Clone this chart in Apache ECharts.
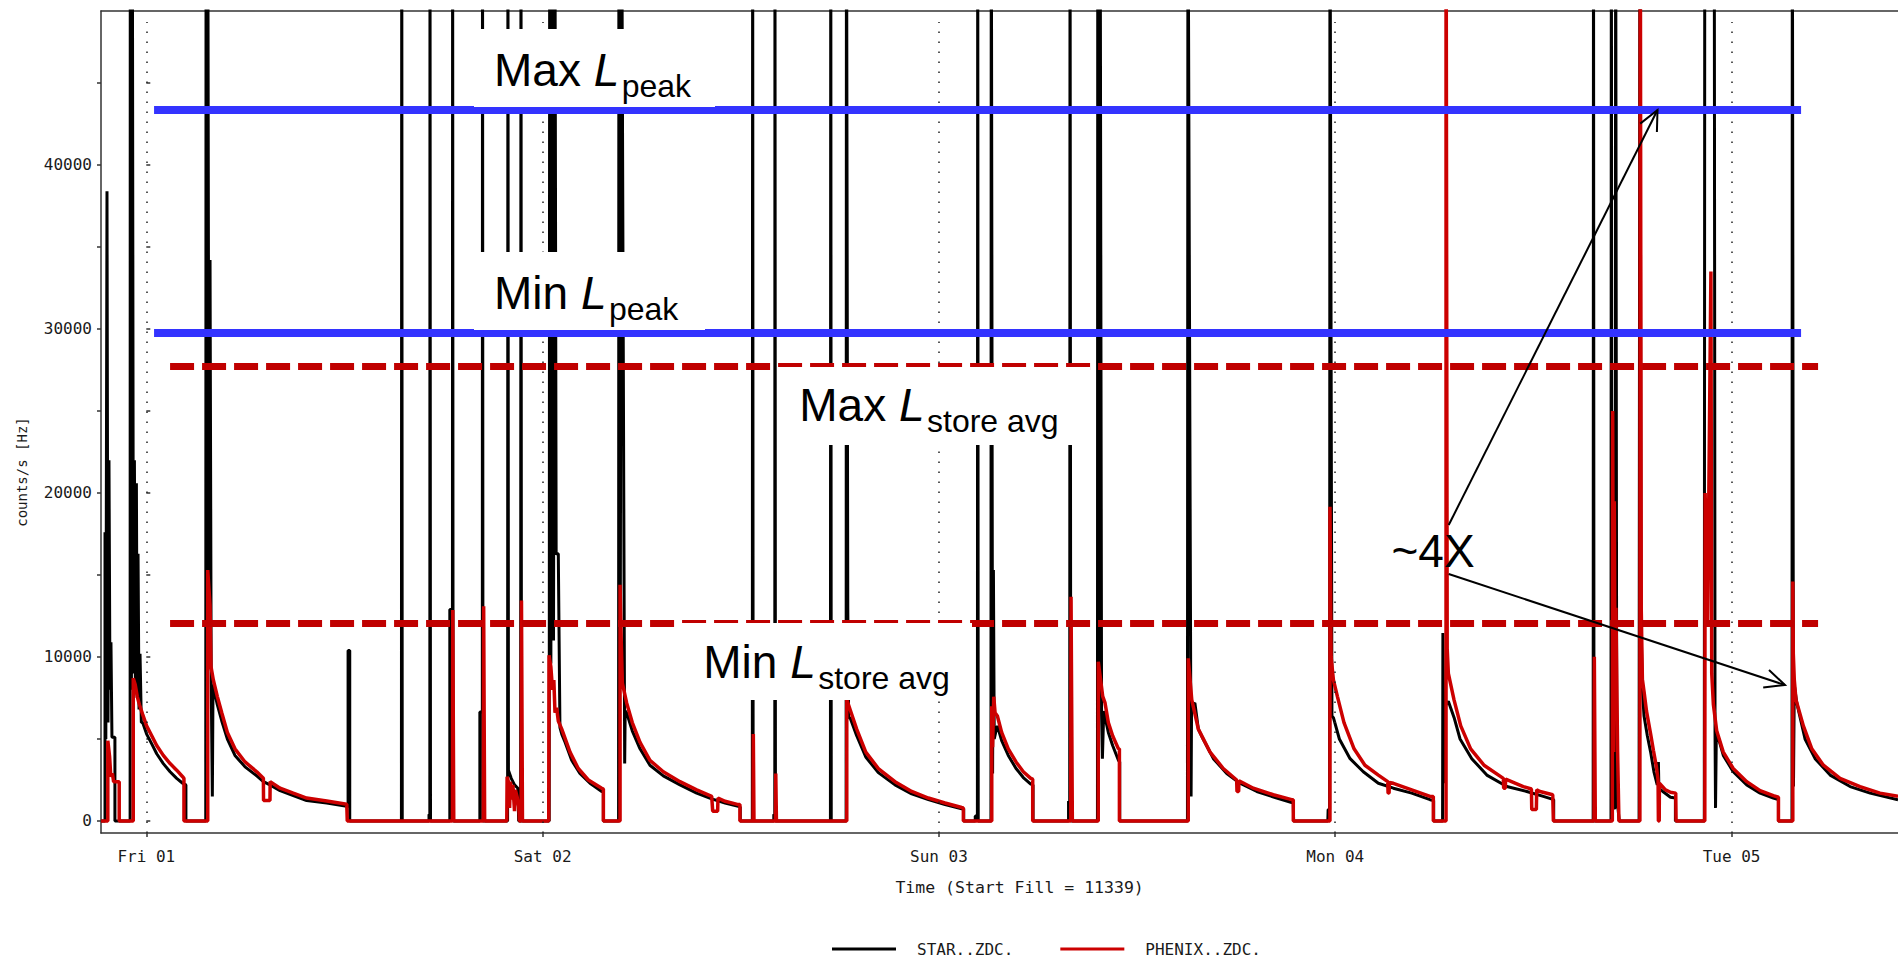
<!DOCTYPE html>
<html><head><meta charset="utf-8">
<script src="https://cdn.jsdelivr.net/npm/echarts@6/dist/echarts.min.js"></script>
<style>html,body{margin:0;padding:0;background:#fff;}#c{width:1898px;height:963px;}</style>
</head><body><div id="c"></div>
<script>
// ---- data (x = hours since Fri 01 00:00, y = counts/s) ----
const dayLabels = ['Fri 01', 'Sat 02', 'Sun 03', 'Mon 04', 'Tue 05'];
const dayHours = [0, 24, 48, 72, 96];
const yTickValues = [0, 5000, 10000, 15000, 20000, 25000, 30000, 35000, 40000, 45000];
const yLabelValues = [0, 10000, 20000, 30000, 40000];
const maxPeak = 43350, minPeak = 29750, maxStoreAvg = 27710, minStoreAvg = 12080;
const peakLineSpan = [0.47, 100.21];
const storeLineSpan = [1.44, 101.24];

const starData = [
 [-2.74,0],[-2.5,0],[-2.5,17600],[-2.45,5000],[-2.38,38400],[-2.32,6000],[-2.26,22000],[-2.2,8000],[-2.14,10900],[-2.08,5100],[-1.9,5100],[-1.9,0],
 [-0.98,0],[-0.97,60000],[-0.9,8000],[-0.85,60000],[-0.78,9000],[-0.72,22000],[-0.66,8500],[-0.6,20600],[-0.55,7500],[-0.5,16300],[-0.44,6800],[-0.38,10200],[-0.3,6000],[-0.22,6000],[0.02,5300],[0.33,4700],[0.63,4100],[1.03,3500],[1.44,3000],[1.84,2600],[2.2,2300],[2.4,2200],[2.4,0],
 [3.6,0],[3.62,60000],[3.68,9000],[3.72,60000],[3.8,12000],[3.86,34200],[3.93,8500],[4.0,1500],[4.04,8300],[4.3,7100],[4.57,6100],[4.91,5000],[5.37,4000],[5.98,3300],[6.69,2750],[7.09,2400],[7.49,2200],[8.1,1850],[8.9,1550],[9.71,1250],[10.93,1100],[12.14,900],[12.22,900],[12.22,10400],[12.32,10400],[12.32,0],
 [15.45,0],[15.47,60000],[15.5,0],
 [17.12,0],[17.12,400],[17.17,400],[17.18,60000],[17.21,0],
 [18.38,0],[18.38,12900],[18.54,12900],[18.55,60000],[18.58,0],
 [20.2,0],[20.2,6650],[20.35,6650],[20.36,60000],[20.39,0],
 [21.88,0],[21.9,60000],[21.93,3100],[22.1,2600],[22.3,2200],[22.5,2000],[22.55,0],
 [22.67,0],[22.69,60000],[22.72,0],
 [24.4,0],[24.43,60000],[24.5,9600],[24.58,60000],[24.66,11000],[24.74,60000],[24.82,16300],[24.95,16300],[25.05,5700],[25.16,5300],[25.36,4800],[25.76,3700],[26.26,2900],[26.87,2300],[27.58,1800],[27.68,1750],[27.68,0],
 [28.6,0],[28.62,60000],[28.7,9000],[28.78,60000],[28.97,3500],[29.0,6700],[29.09,6600],[29.43,5500],[29.9,4400],[30.5,3400],[31.31,2750],[32.32,2200],[33.33,1700],[34.24,1350],[35.05,1100],[35.85,900],[35.97,850],[35.97,0],
 [36.7,0],[36.72,60000],[36.75,0],
 [38.0,0],[38.0,400],[38.06,400],[38.07,60000],[38.1,0],
 [41.43,0],[41.45,60000],[41.48,0],
 [42.38,0],[42.4,60000],[42.48,13000],[42.53,6300],[42.62,6300],[43.02,5200],[43.57,3900],[44.33,2950],[45.34,2200],[46.35,1650],[47.36,1300],[48.37,1000],[49.38,750],[49.5,750],[49.5,0],
 [50.2,0],[50.2,300],[50.33,300],[50.35,60000],[50.38,0],
 [51.15,0],[51.17,60000],[51.25,2900],[51.3,15300],[51.35,5000],[51.48,5600],[51.54,5800],[51.8,4900],[52.2,4000],[52.67,3200],[53.11,2650],[53.56,2250],[53.7,2200],[53.7,0],
 [55.85,0],[55.85,1200],[55.92,1200],[55.94,60000],[55.98,6000],[56.0,0],
 [57.6,0],[57.62,60000],[57.7,9000],[57.76,60000],[57.85,6500],[57.9,3800],[57.98,6700],[58.26,5400],[58.52,4600],[58.87,3700],[58.95,3600],[58.95,0],
 [63.05,0],[63.08,60000],[63.27,1500],[63.3,7000],[63.5,7200],[63.71,5600],[64.0,5000],[64.62,3800],[65.43,2900],[66.23,2300],[67.25,1800],[68.46,1400],[69.46,1100],[69.48,1100],[69.48,0],
 [71.55,0],[71.57,700],[71.66,700],[71.68,60000],[71.8,6400],[71.89,6300],[72.25,5000],[72.9,3800],[73.7,3000],[74.61,2300],[75.52,2000],[76.63,1700],[77.74,1300],[77.96,1250],[77.96,0],
 [78.5,0],[78.52,11460],[78.6,2300],[78.65,7000],[78.85,7300],[79.2,6300],[79.56,5000],[80.27,3800],[81.18,2800],[82.39,2100],[83.6,1800],[84.6,1500],[85.23,1300],[85.23,0],
 [87.62,0],[87.64,60000],[87.67,0],
 [88.7,0],[88.72,60000],[88.76,800],[88.96,800],[88.98,60000],[89.05,1500],[89.2,0],
 [90.4,0],[90.45,60000],[90.52,12000],[90.6,8000],[90.7,6400],[90.9,5200],[91.1,4200],[91.3,3000],[91.5,2200],[91.57,3600],[91.6,2000],[91.9,1750],[92.3,1450],[92.6,1400],[92.6,0],
 [94.35,0],[94.38,60000],[94.95,60000],[95.0,5400],[95.03,800],[95.08,5500],[95.5,4000],[96.1,3000],[96.92,2200],[97.73,1700],[98.53,1400],[98.84,1300],[98.84,0],
 [99.66,0],[99.68,60000],[99.75,2100],[99.8,8300],[99.95,7200],[100.45,5000],[101.06,3800],[101.97,2800],[103.18,2100],[104.39,1700],[106.08,1300]
];

const phenixData = [
 [-2.74,0],[-2.33,0],[-2.33,4900],[-2.22,3900],[-2.15,2700],[-2.05,2900],[-1.98,2400],[-1.64,2400],[-1.64,0],
 [-0.79,0],[-0.79,8700],[-0.67,8300],[-0.55,7600],[-0.42,7100],[-0.22,6500],[0.02,5800],[0.33,5200],[0.63,4600],[1.03,4000],[1.44,3500],[1.84,3100],[2.2,2700],[2.28,2600],[2.28,0],
 [3.72,0],[3.72,15300],[3.86,13150],[3.92,9400],[4.06,8600],[4.3,7600],[4.57,6600],[4.91,5400],[5.37,4400],[5.98,3600],[6.69,3000],[7.09,2600],[7.1,1250],[7.49,1250],[7.5,2400],[8.1,2000],[8.9,1700],[9.71,1400],[10.93,1220],[12.14,1020],[12.17,1000],[12.17,0],
 [18.54,0],[18.56,12870],[18.62,0],
 [20.41,0],[20.43,13100],[20.49,0],
 [21.83,0],[21.85,2700],[21.95,2300],[22.0,800],[22.05,2400],[22.15,1300],[22.2,2200],[22.3,600],[22.35,1900],[22.45,1500],[22.55,900],[22.6,0],
 [22.7,0],[22.72,13450],[22.78,0],
 [24.37,0],[24.39,10100],[24.5,9400],[24.6,8000],[24.68,8600],[24.75,6600],[24.85,6900],[24.95,6100],[25.16,5600],[25.66,4200],[26.16,3200],[26.77,2500],[27.58,2000],[27.68,1950],[27.68,0],
 [28.69,0],[28.69,14400],[28.76,11000],[28.83,8400],[29.09,7200],[29.43,6000],[29.9,4800],[30.5,3700],[31.31,3000],[32.32,2400],[33.33,1900],[34.24,1500],[34.3,600],[34.6,600],[34.62,1400],[35.05,1200],[35.85,1000],[35.95,1000],[35.95,0],
 [36.74,0],[36.76,5300],[36.8,0],
 [38.1,0],[38.12,2900],[38.16,0],
 [42.42,0],[42.42,7400],[42.62,6800],[43.02,5600],[43.57,4200],[44.33,3200],[45.34,2400],[46.35,1800],[47.36,1400],[48.37,1100],[49.38,820],[49.48,800],[49.48,0],
 [51.2,0],[51.2,7000],[51.25,4500],[51.32,7580],[51.4,6600],[51.54,6400],[51.8,5400],[52.2,4400],[52.67,3600],[53.11,3000],[53.56,2600],[53.68,2550],[53.68,0],
 [55.98,0],[56.0,13680],[56.08,0],
 [57.65,0],[57.65,9710],[57.92,7600],[58.06,7200],[58.26,6000],[58.52,5200],[58.87,4400],[58.93,4400],[58.93,0],
 [63.1,0],[63.1,9920],[63.31,7400],[63.71,5600],[64.42,4200],[65.22,3200],[66.03,2500],[66.05,1800],[66.15,1800],[66.17,2450],[67.04,2000],[68.25,1600],[69.36,1300],[69.46,1300],[69.46,0],
 [71.68,0],[71.68,19160],[71.75,10000],[71.89,8600],[72.13,7600],[72.53,6000],[73.14,4400],[73.8,3400],[74.61,2800],[75.18,2400],[75.2,1700],[75.26,1700],[75.28,2350],[75.52,2300],[76.63,1900],[77.74,1500],[77.94,1500],[77.94,0],
 [78.71,0],[78.71,60000],[78.78,10500],[78.85,9000],[79.19,7400],[79.6,5800],[80.2,4400],[81.01,3400],[82.18,2600],[82.2,2000],[82.3,2000],[82.32,2550],[83.39,2100],[83.88,1950],[83.9,700],[84.18,700],[84.2,1900],[84.4,1800],[85.17,1600],[85.21,1600],[85.21,0],
 [87.67,0],[87.69,10020],[87.75,0],
 [88.78,0],[88.8,25000],[88.86,4200],[88.9,19500],[88.95,6600],[89.0,13000],[89.1,4200],[89.18,0],
 [90.45,0],[90.47,60000],[90.53,13000],[90.6,8650],[90.7,7900],[90.85,6700],[91.1,5300],[91.27,4300],[91.45,3300],[91.55,2500],[91.57,0],[91.62,0],[91.63,2300],[92.0,1900],[92.3,1750],[92.62,1700],[92.64,0],
 [94.38,0],[94.4,20000],[94.55,12000],[94.75,33500],[94.8,9000],[94.9,7100],[95.1,5500],[95.5,4200],[96.1,3200],[96.92,2400],[97.73,1850],[98.53,1550],[98.84,1450],[98.84,0],
 [99.71,0],[99.71,14600],[99.74,10200],[99.8,8600],[99.9,7400],[100.35,5800],[100.86,4400],[101.56,3400],[102.57,2600],[103.78,2100],[104.99,1700],[106.08,1500]
];

// ---- layout / style ----
const xMin = -2.743, xMax = 106.08, yMin = -732, yMax = 49390;
const mono = '"DejaVu Sans Mono", monospace';
const sans = '"Liberation Sans", Arial, sans-serif';
const axisColor = '#333';
const txt = '#1a1a1a';
const Z = 100;

function label(x, y, main, sub, mainW) {
  return [
    {type:'text', z:Z+1, style:{x:x, y:y, text:main, font:'46px ' + sans, fill:'#000', textAlign:'left', textVerticalAlign:'middle'}},
    {type:'text', z:Z+1, style:{x:x + mainW, y:y, text:'L', font:'italic 46px ' + sans, fill:'#000', textAlign:'left', textVerticalAlign:'middle'}},
    {type:'text', z:Z+1, style:{x:x + mainW + 28, y:y + 15.8, text:sub, font:'32px ' + sans, fill:'#000', textAlign:'left', textVerticalAlign:'middle'}}
  ];
}
function box(x, y, w, h) { return {type:'rect', z:Z, shape:{x:x, y:y, width:w, height:h}, style:{fill:'#ffffff', stroke:null}}; }

const graphics = [].concat(
  [box(474, 29, 241, 78), box(474, 252, 231, 78), box(777, 367, 313, 78), box(675, 623, 297, 77)],
  label(494, 70.1, 'Max ', 'peak', 99.7),
  label(494, 293.1, 'Min ', 'peak', 86.9),
  label(799.3, 405.1, 'Max ', 'store avg', 99.7),
  label(703.3, 662.4, 'Min ', 'store avg', 86.9),
  [
    {type:'text', z:Z+1, style:{x:1391.5, y:550.8, text:'~4X', font:'46px ' + sans, fill:'#000', textAlign:'left', textVerticalAlign:'middle'}},
    {type:'line', z:Z+2, shape:{x1:1448.7, y1:525, x2:1657.5, y2:110}, style:{stroke:'#000', lineWidth:2}},
    {type:'polyline', z:Z+2, shape:{points:[[1640.2,123.6],[1657.5,110],[1656.9,132]]}, style:{stroke:'#000', lineWidth:2, fill:null}},
    {type:'line', z:Z+2, shape:{x1:1448.7, y1:574, x2:1785, y2:685}, style:{stroke:'#000', lineWidth:2}},
    {type:'polyline', z:Z+2, shape:{points:[[1769,669.9],[1785,685],[1763.2,687.6]]}, style:{stroke:'#000', lineWidth:2, fill:null}},
    {type:'text', z:Z, x:22, y:472, rotation:Math.PI/2, style:{x:0, y:0, text:'counts/s [Hz]', font:'14px ' + mono, fill:txt, textAlign:'center', textVerticalAlign:'middle'}},
    {type:'text', z:Z, style:{x:1019.6, y:887, text:'Time (Start Fill = 11339)', font:'16.5px ' + mono, fill:txt, textAlign:'center', textVerticalAlign:'middle'}}
  ]
);

const chart = echarts.init(document.getElementById('c'), null, {renderer:'svg'});
chart.setOption({
  animation:false,
  backgroundColor:'#fff',
  grid:{left:101, right:0, top:11, bottom:130, containLabel:false, outerBoundsMode:'none'},
  legend:{
    data:['STAR..ZDC.', 'PHENIX..ZDC.'], left:827, top:936, icon:'rect', itemWidth:64, itemHeight:3, itemGap:47,
    textStyle:{fontFamily:mono, fontSize:16, color:txt, padding:[0,0,0,16]}, selectedMode:false
  },
  xAxis:[
    {type:'value', min:xMin, max:xMax, splitLine:{show:false},
     axisLine:{show:true, onZero:false, lineStyle:{color:axisColor, width:1.5}},
     axisTick:{show:true, length:4, customValues:dayHours, lineStyle:{color:axisColor, width:1.5}},
     axisLabel:{customValues:dayHours, margin:15, fontFamily:mono, fontSize:16, color:txt,
       formatter:function(v){ const i = dayHours.indexOf(v); return i >= 0 ? dayLabels[i] : ''; }}},
    {type:'value', position:'top', min:xMin, max:xMax, splitLine:{show:false},
     axisLine:{show:true, onZero:false, lineStyle:{color:axisColor, width:1.5}}, axisTick:{show:false}, axisLabel:{show:false}}
  ],
  yAxis:[
    {type:'value', min:yMin, max:yMax, splitLine:{show:false},
     axisLine:{show:true, onZero:false, lineStyle:{color:axisColor, width:1.5}},
     axisTick:{show:true, length:4, customValues:yTickValues, lineStyle:{color:axisColor, width:1.5}},
     axisLabel:{customValues:yLabelValues, margin:9, fontFamily:mono, fontSize:16, color:txt,
       formatter:function(v){ return String(v); }}},
    {type:'value', min:yMin, max:yMax, position:'left', splitLine:{show:false}, axisLine:{show:false},
     axisTick:{show:true, inside:true, length:4, customValues:yTickValues, lineStyle:{color:axisColor, width:1.5}},
     axisLabel:{show:false}}
  ],
  series:[
    {name:'STAR..ZDC.', type:'line', data:starData, showSymbol:false, symbol:'none', clip:true, z:2,
     lineStyle:{color:'#000', width:3}, itemStyle:{color:'#000'},
     markLine:{silent:true, symbol:['none','none'], label:{show:false},
       lineStyle:{type:[1.5, 8.5], color:'#222', width:1.5},
       data: dayHours.map(h => [{coord:[h, yMin]}, {coord:[h, 48720]}])}},
    {name:'PHENIX..ZDC.', type:'line', data:phenixData, showSymbol:false, symbol:'none', clip:true, z:3,
     lineStyle:{color:'#cc0000', width:3.5}, itemStyle:{color:'#cc0000'},
     markLine:{silent:true, symbol:['none','none'], label:{show:false},
       data:[
         [{coord:[peakLineSpan[0], maxPeak], lineStyle:{color:'#3333ff', width:8, type:'solid'}}, {coord:[peakLineSpan[1], maxPeak]}],
         [{coord:[peakLineSpan[0], minPeak], lineStyle:{color:'#3333ff', width:8, type:'solid'}}, {coord:[peakLineSpan[1], minPeak]}],
         [{coord:[storeLineSpan[0], maxStoreAvg], lineStyle:{color:'#c00000', width:7, type:[24, 8]}}, {coord:[storeLineSpan[1], maxStoreAvg]}],
         [{coord:[storeLineSpan[0], minStoreAvg], lineStyle:{color:'#c00000', width:7, type:[24, 8]}}, {coord:[storeLineSpan[1], minStoreAvg]}]
       ]}}
  ],
  graphic: graphics
});
</script></body></html>
